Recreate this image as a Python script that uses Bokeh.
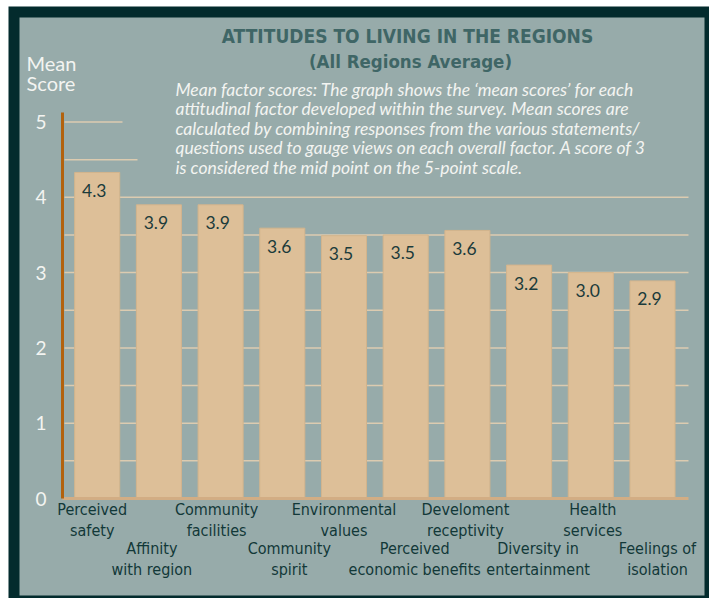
from bokeh.plotting import figure
from bokeh.models import Range1d, LinearAxis, FixedTicker, Label, ColumnDataSource, BoxAnnotation
from bokeh.core.properties import value
from bokeh.embed import file_html
from bokeh.resources import INLINE

# ---------------- data ----------------
categories = [
    "Perceived\nsafety",
    "Affinity\nwith region",
    "Community\nfacilities",
    "Community\nspirit",
    "Environmental\nvalues",
    "Perceived\neconomic benefits",
    "Develoment\nreceptivity",
    "Diversity in\nentertainment",
    "Health\nservices",
    "Feelings of\nisolation",
]
scores = [4.33, 3.90, 3.90, 3.59, 3.49, 3.50, 3.56, 3.10, 3.00, 2.89]
score_labels = ["4.3", "3.9", "3.9", "3.6", "3.5", "3.5", "3.6", "3.2", "3.0", "2.9"]
y_ticks = [0, 1, 2, 3, 4, 5]
grid_levels = [0.5, 1.0, 1.5, 2.0, 2.5, 3.0, 3.5, 4.0, 4.5, 5.0]

title_text = "ATTITUDES TO LIVING IN THE  REGIONS"
subtitle_text = "(All Regions Average)"
description_lines = [
    "Mean factor scores:  The graph shows the \u2018mean scores\u2019 for each",
    "attitudinal factor developed within the survey. Mean scores are",
    "calculated by combining responses from the various statements/",
    "questions used to gauge views on each overall factor. A score of 3",
    "is considered the mid point on the 5-point scale.",
]
axis_title_lines = ["Mean", "Score"]

# ---------------- styles / layout ----------------
DARK = "#032b2d"
PANEL = "#97abaa"
BAR = "#ddbf98"
BAR_EDGE = "#d3b48c"
GRID = "#dccbb0"
BASE = "#d2ad84"
AXIS = "#b2620e"
TEAL_TEXT = "#123838"
TITLE = "#3f6666"
WHITE = "#f3f4f1"

NARROW = "DejaVu Sans Condensed"
LIGHT = "Lato"

W, H = 709, 598
BL, BT = 8, 6

# label horizontal nudges (px), as in the original layout
label_nudge = [-5, -7, -4, 7, 0, 9, -2, 9, 2, 5]

# page-pixel -> data helpers (layout only)
X0, XSTEP = 96.7, 61.7
Y0, YUNIT = 498.0, 75.3
def dx(px):
    return (px - X0) / XSTEP
def dy(py):
    return (Y0 - py) / YUNIT

p = figure(
    width=W, height=H,
    x_range=Range1d(dx(BL), dx(W)),
    y_range=Range1d(dy(H), dy(BT)),
    x_axis_type=None, y_axis_type=None,
    toolbar_location=None, output_backend="svg",
    min_border_left=BL, min_border_top=BT, min_border_right=0, min_border_bottom=0,
    background_fill_color=DARK, border_fill_color="white",
    outline_line_color=None,
)
p.grid.visible = False

# inner panel
p.add_layout(BoxAnnotation(left=dx(19), right=dx(704), top=dy(17), bottom=dy(595),
                           fill_color=PANEL, fill_alpha=1, line_color=None,
                           level="underlay"))

# grid lines (upper two are cut short by the text block)
grid_x1 = [dx(688) if g <= 4.0 else (dx(137) if g == 4.5 else dx(122)) for g in grid_levels]
p.segment(x0=[dx(64)] * len(grid_levels), x1=grid_x1, y0=grid_levels, y1=grid_levels,
          line_color=GRID, line_width=1.5)

idx = list(range(len(categories)))
src = ColumnDataSource(dict(x=idx, top=scores, lab=score_labels, cat=categories,
                            nudge=label_nudge,
                            row_y=[dy(499) if i % 2 == 0 else dy(538) for i in idx]))

p.vbar(x="x", top="top", bottom=0, width=0.73, source=src,
       fill_color=BAR, line_color=BAR_EDGE, line_width=1)

p.text(x="x", y="top", text="lab", source=src, x_offset=-3, y_offset=18,
       text_align="center", text_baseline="middle",
       text_font=value(LIGHT), text_font_size="17.5px", text_color="#1b3b3b")

p.text(x="x", y="row_y", text="cat", source=src, x_offset="nudge",
       text_align="center", text_baseline="top", text_line_height=1.15,
       text_font=value(NARROW), text_font_size="16px", text_color=TEAL_TEXT)

# y axis inside the panel
yax = LinearAxis(ticker=FixedTicker(ticks=y_ticks), fixed_location=dx(62),
                 bounds=(0, 5.13))
yax.axis_line_color = AXIS
yax.axis_line_width = 3
yax.major_tick_line_color = None
yax.minor_tick_line_color = None
yax.major_label_standoff = 10
yax.major_label_text_font = LIGHT
yax.major_label_text_font_size = "19px"
yax.major_label_text_color = WHITE
p.add_layout(yax, "left")

# baseline
xax = LinearAxis(ticker=FixedTicker(ticks=[]), fixed_location=0,
                 bounds=(dx(62), dx(688)))
xax.axis_line_color = BASE
xax.axis_line_width = 3
xax.major_tick_line_color = None
xax.minor_tick_line_color = None
xax.major_label_text_color = None
p.add_layout(xax, "below")

# titles
p.add_layout(Label(x=dx(410), y=dy(35), text=title_text, text_align="center",
                   text_baseline="middle", text_font=NARROW, text_font_style="bold",
                   text_font_size="19px", text_color=TITLE))
p.add_layout(Label(x=dx(410), y=dy(61), text=subtitle_text, text_align="center",
                   text_baseline="middle", text_font=NARROW, text_font_style="bold",
                   text_font_size="18.5px", text_color=TITLE))

for k, line in enumerate(description_lines):
    p.add_layout(Label(x=dx(175), y=dy(89 + 19.4 * k), text=line, text_align="left",
                       text_baseline="middle", text_font=LIGHT, text_font_style="italic",
                       text_font_size="17.5px", text_color=WHITE))

for k, line in enumerate(axis_title_lines):
    p.add_layout(Label(x=dx(26), y=dy(62 + 20 * k), text=line, text_align="left",
                       text_baseline="middle", text_font=LIGHT,
                       text_font_size="20px", text_color=WHITE))

open("out.html", "w").write(file_html(p, INLINE))
